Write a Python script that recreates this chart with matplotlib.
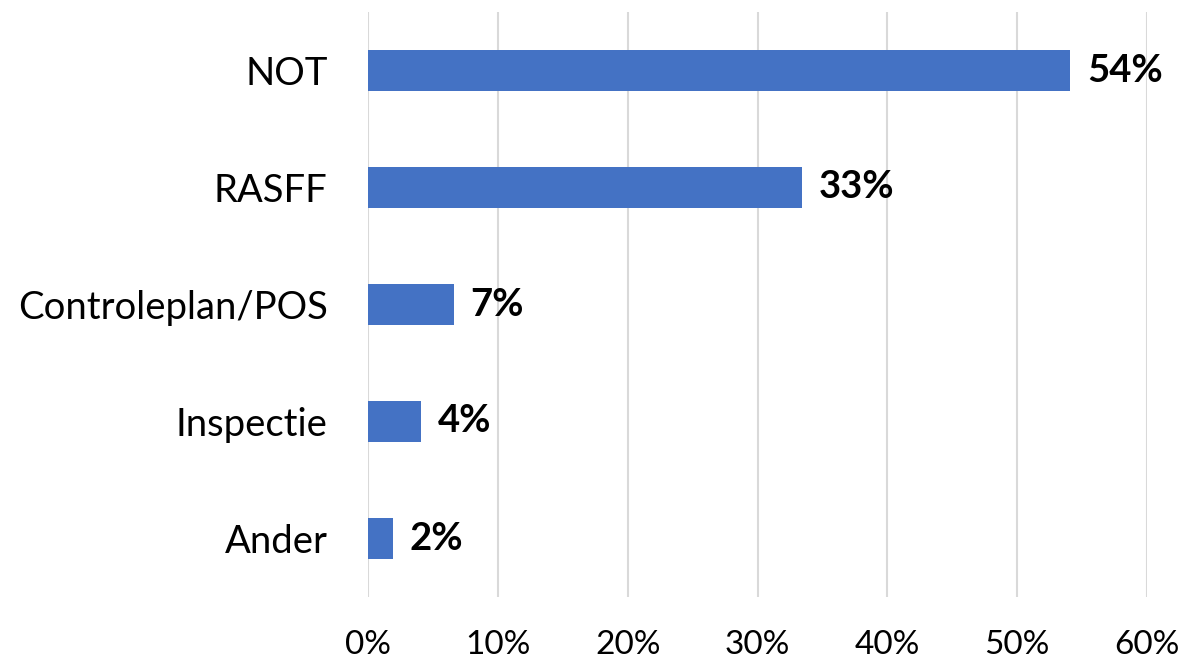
import matplotlib.pyplot as plt
from matplotlib.ticker import FuncFormatter

# Data (top to bottom as shown)
categories = ["NOT", "RASFF", "Controleplan/POS", "Inspectie", "Ander"]
values = [54.1, 33.4, 6.6, 4.1, 1.9]
labels = ["54%", "33%", "7%", "4%", "2%"]

plt.rcParams['font.family'] = ['Lato', 'DejaVu Sans']

fig = plt.figure(figsize=(11.85, 6.61), dpi=100)
ax = fig.add_axes([368 / 1185, 64 / 661, (1147 - 368) / 1185, 585 / 661])

ypos = list(range(len(categories)))[::-1]
ax.barh(ypos, values, height=0.35, color="#4472C4", zorder=3)

for y, v, lab in zip(ypos, values, labels):
    ax.text(v + 1.3, y, lab, va="center", ha="left", fontsize=27.5,
            fontweight="bold", color="black")

ax.set_xlim(0, 60)
ax.set_ylim(-0.5, len(categories) - 0.5)
ax.set_xticks(range(0, 61, 10))
ax.xaxis.set_major_formatter(FuncFormatter(lambda x, p: f"{int(x)}%"))
ax.set_yticks(ypos)
ax.set_yticklabels(categories)

ax.grid(axis="x", color="#D9D9D9", linewidth=1.5, zorder=0)
for s in ["top", "right", "bottom", "left"]:
    ax.spines[s].set_visible(False)
ax.tick_params(axis="y", length=0, pad=29, labelsize=27.5)
ax.tick_params(axis="x", length=0, pad=24, labelsize=24)

fig.savefig("out.png", dpi=100)
